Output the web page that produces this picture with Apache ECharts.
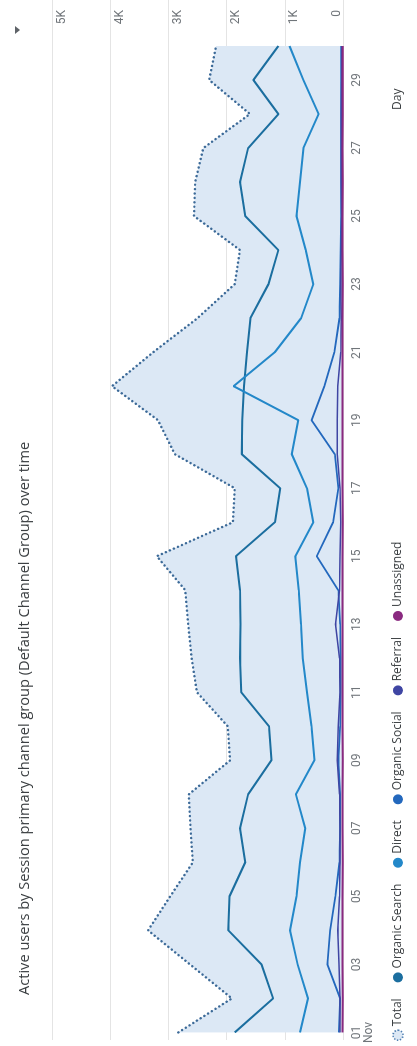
<!DOCTYPE html>
<html>
<head>
<meta charset="utf-8">
<script src="https://cdn.jsdelivr.net/npm/echarts@6/dist/echarts.min.js"></script>
<style>
  html, body { margin: 0; padding: 0; background: #fff; overflow: hidden; width: 417px; height: 1046px; }
  /* the card is laid out landscape and turned a quarter turn, reading bottom-to-top */
  #stage { position: absolute; left: 0; top: 0; width: 1046px; height: 417px;
           transform-origin: 0 0; transform: translate(0, 1046px) rotate(-90deg); }
  #chart { width: 1046px; height: 417px; }
</style>
</head>
<body>
<div id="stage"><div id="chart"></div></div>
<script>
// Active users per day, November
const titleText = 'Active users by Session primary channel group (Default Channel Group) over time';
const monthLabel = 'Nov';
const days = ['01','02','03','04','05','06','07','08','09','10','11','12','13','14','15',
              '16','17','18','19','20','21','22','23','24','25','26','27','28','29','30'];
const yTickLabels = ['0', '1K', '2K', '3K', '4K', '5K'];
const seriesNames = ['Total', 'Organic Search', 'Direct', 'Organic Social', 'Referral', 'Unassigned'];

const total         = [2830,1910,2630,3350,2970,2580,2620,2650,1940,1980,2510,2600,2660,2710,3200,
                       1890,1860,2890,3180,3970,3260,2500,1860,1770,2560,2540,2400,1600,2300,2180];
const organicSearch = [1860,1200,1400,1970,1950,1680,1770,1630,1230,1270,1750,1770,1760,1770,1840,
                       1170,1080,1740,1730,1700,1650,1590,1280,1110,1680,1770,1630,1110,1540,1110];
const direct        = [740,600,780,910,800,740,650,810,490,540,620,690,720,760,820,
                       510,620,880,770,1880,1170,720,510,640,800,740,680,420,680,920];
const organicSocial = [70,50,270,220,130,60,50,50,80,50,40,40,50,80,450,
                       170,80,140,540,320,150,60,50,40,30,30,30,30,30,30];
const referral      = [50,50,70,90,60,50,50,60,100,80,50,60,130,60,50,
                       40,50,100,100,90,40,30,40,30,20,30,30,30,20,20];
const unassigned    = [8,6,7,9,8,6,7,8,6,7,8,7,9,8,7,6,8,7,9,10,8,7,6,7,8,6,7,6,7,6];

const FONT = 'Roboto, "Noto Sans", sans-serif';
const TEXT_FONT = '"Open Sans", Roboto, sans-serif';
const colors = {
  'Total': '#3c6a98',
  'Organic Search': '#1b6e9f',
  'Direct': '#2388c9',
  'Organic Social': '#2368bd',
  'Referral': '#3f45a3',
  'Unassigned': '#8a2a80'
};
const lineWidths = { 'Organic Search': 2, 'Direct': 2, 'Organic Social': 1.8, 'Referral': 1.5, 'Unassigned': 2 };
const values = { 'Organic Search': organicSearch, 'Direct': direct, 'Organic Social': organicSocial,
                 'Referral': referral, 'Unassigned': unassigned };

const chart = echarts.init(document.getElementById('chart'), null, { renderer: 'canvas' });

const channelSeries = seriesNames.slice(1).map(name => ({
  name, type: 'line', xAxisIndex: 0, yAxisIndex: 0,
  data: values[name], symbol: 'none', color: colors[name],
  lineStyle: { width: lineWidths[name], color: colors[name] },
  emphasis: { disabled: true }
}));

const legendData = seriesNames.map(name => name === 'Total'
  ? { name, itemStyle: { color: '#dce8f5', borderColor: '#4f7fb2', borderWidth: 1.6, borderType: [1.4, 1.6] } }
  : { name, itemStyle: { color: colors[name], borderWidth: 0 } });

chart.setOption({
  animation: false,
  textStyle: { fontFamily: FONT },
  title: {
    text: titleText, left: 46, top: 12,
    textStyle: { fontSize: 14.6, fontWeight: 'normal', color: '#3c4043', fontFamily: TEXT_FONT }
  },
  legend: {
    left: 0, top: 387, icon: 'circle', itemWidth: 10, itemHeight: 10, itemGap: 16,
    textStyle: { fontSize: 12, color: '#3c4043', fontFamily: TEXT_FONT, padding: [0, 0, 0, -1] },
    data: legendData
  },
  grid: [
    { left: 10, right: 46, top: 52, bottom: 74 },
    { left: 6, right: 0, top: 52, bottom: 74 }
  ],
  xAxis: [
    {
      gridIndex: 0, type: 'category', data: days, boundaryGap: false,
      axisLine: { show: false }, axisTick: { show: false }, splitLine: { show: false },
      axisLabel: {
        interval: 1, margin: 8, fontSize: 12, lineHeight: 12, color: '#70757a', fontFamily: FONT,
        formatter: (v, i) => i === 0 ? v + '\n' + monthLabel : v
      }
    },
    { gridIndex: 1, type: 'value', min: 0, max: 1, show: false }
  ],
  yAxis: [
    { gridIndex: 0, type: 'value', min: 0, max: 5000, interval: 1000, show: false },
    {
      gridIndex: 1, type: 'value', min: 0, max: 5000, interval: 1000, position: 'right',
      axisLine: { show: false }, axisTick: { show: false },
      splitLine: { lineStyle: { color: '#e4e4e4', width: 1 } },
      axisLabel: {
        inside: true, margin: 10, color: '#70757a', fontSize: 12, fontFamily: FONT,
        formatter: v => {
          const t = yTickLabels[Math.round(v / 1000)];
          return v === 0 ? '{b|' + t + '}' : '{a|' + t + '}';
        },
        rich: {
          a: { fontSize: 12, color: '#70757a', fontFamily: FONT, padding: [19, 0, 0, 0] },
          b: { fontSize: 12, color: '#70757a', fontFamily: FONT, padding: [0, 0, 12, 0] }
        }
      }
    }
  ],
  graphic: [
    { type: 'text', left: 936, top: 392,
      style: { text: 'Day', fontSize: 12, fill: '#3c4043', fontFamily: TEXT_FONT } },
    { type: 'polygon', left: 1012, top: 15,
      shape: { points: [[0, 0], [8, 0], [4, 5]] }, style: { fill: '#5f6368' } }
  ],
  series: [
    {
      name: 'Total', type: 'line', xAxisIndex: 0, yAxisIndex: 0, data: total,
      symbol: 'none', color: colors['Total'], z: 1,
      lineStyle: { width: 2.4, type: [0.1, 4.3], cap: 'round', color: colors['Total'] },
      areaStyle: { color: '#dce8f5', opacity: 1 },
      emphasis: { disabled: true }
    },
    ...channelSeries
  ]
});
</script>
</body>
</html>
